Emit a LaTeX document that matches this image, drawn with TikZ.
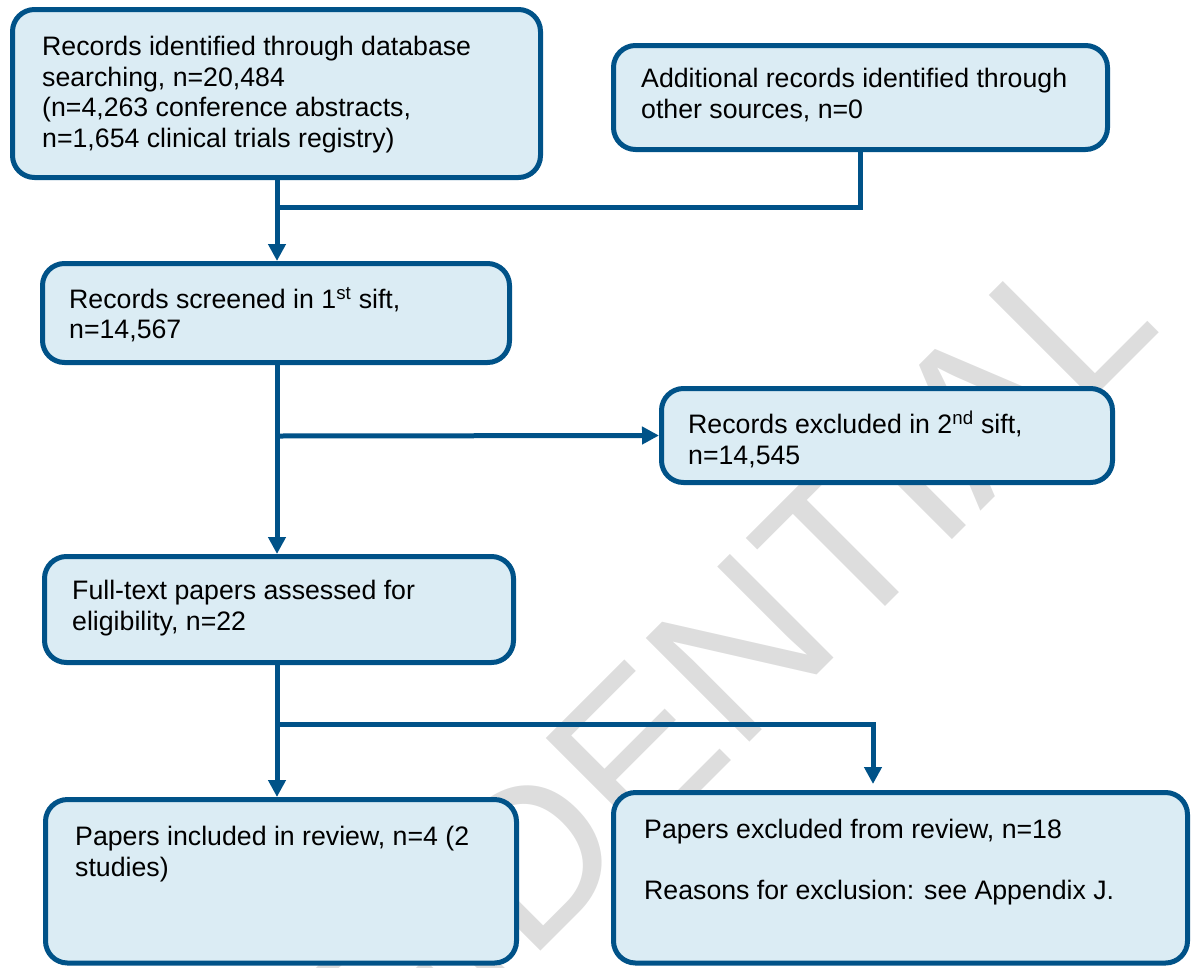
\documentclass[tikz,border=0pt]{standalone}
\usepackage{fontspec}
\setmainfont{Liberation Sans}
\usetikzlibrary{arrows.meta}
\definecolor{bordc}{RGB}{0,82,136}
\definecolor{fillc}{RGB}{219,236,244}
\definecolor{wmc}{RGB}{221,221,221}
\begin{document}
\begin{tikzpicture}[x=1pt,y=-1pt,
  box/.style={draw=bordc, fill=fillc, line width=5pt, rounded corners=22pt, inner sep=0pt},
  txt/.style={align=left, inner sep=0pt, anchor=north west, font=\fontsize{26.7}{30.5}\selectfont},
  conn/.style={draw=bordc, line width=5pt},
  arr/.style={conn, -{Triangle[width=17pt,length=17pt]}}]
\useasboundingbox (0,0) rectangle (1197,967);
\clip (0,0) rectangle (1197,967);
% watermark
\node[anchor=base west, rotate=45, inner sep=0pt, text=wmc, font=\fontsize{213}{213}\selectfont] (wm) at (60,1432) {CONFIDENTIAL};
% boxes
\node[box, minimum width=528pt, minimum height=168pt] (b1) at (276.5,93.5) {};
\node[box, minimum width=494pt, minimum height=104pt] (b2) at (860.5,97.5) {};
\node[box, minimum width=467pt, minimum height=99pt] (b3) at (276,313) {};
\node[box, minimum width=451pt, minimum height=94pt] (b4) at (887,435.5) {};
\node[box, minimum width=469pt, minimum height=106pt] (b5) at (279,609.5) {};
\node[box, minimum width=471pt, minimum height=163.5pt] (b6) at (281,881.25) {};
\node[box, minimum width=574pt, minimum height=170.5pt] (b7) at (900.5,877.75) {};
% texts
\node[txt] (t1) at (42,36) {Records identified through database\\searching, n=20,484\\(n=4,263 conference abstracts,\\n=1,654 clinical trials registry)};
\node[txt] (t2) at (641,68) {Additional records identified through\\other sources, n=0};
\node[txt] (t3) at (69,287) {Records screened in 1\textsuperscript{st} sift,\\n=14,567};
\node[txt] (t4) at (688,411) {Records excluded in 2\textsuperscript{nd} sift,\\n=14,545};
\node[txt] (t5) at (72,580) {Full-text papers assessed for\\eligibility, n=22};
\node[txt] (t6) at (75,826) {Papers included in review, n=4 (2\\studies)};
\node[txt] (t7) at (644,819) {Papers excluded from review, n=18\\[30.5pt]Reasons for exclusion: see Appendix J.};
% connectors
\coordinate (j1) at (277,207);
\coordinate (j2) at (277,436);
\coordinate (j3) at (277,724);
\coordinate (e7) at (873,784);
\draw[arr] (277,180) coordinate (s1) -- (b3.north -| s1);
\draw[conn] (j1) -| (b2.south);
\draw[arr] (b3.south -| s1) -- (b5.north -| s1);
\draw[arr] (j2) -- (b4.west);
\draw[arr] (b5.south -| s1) -- (b6.north -| s1);
\draw[arr] (j3) -| (e7);
\end{tikzpicture}
\end{document}
